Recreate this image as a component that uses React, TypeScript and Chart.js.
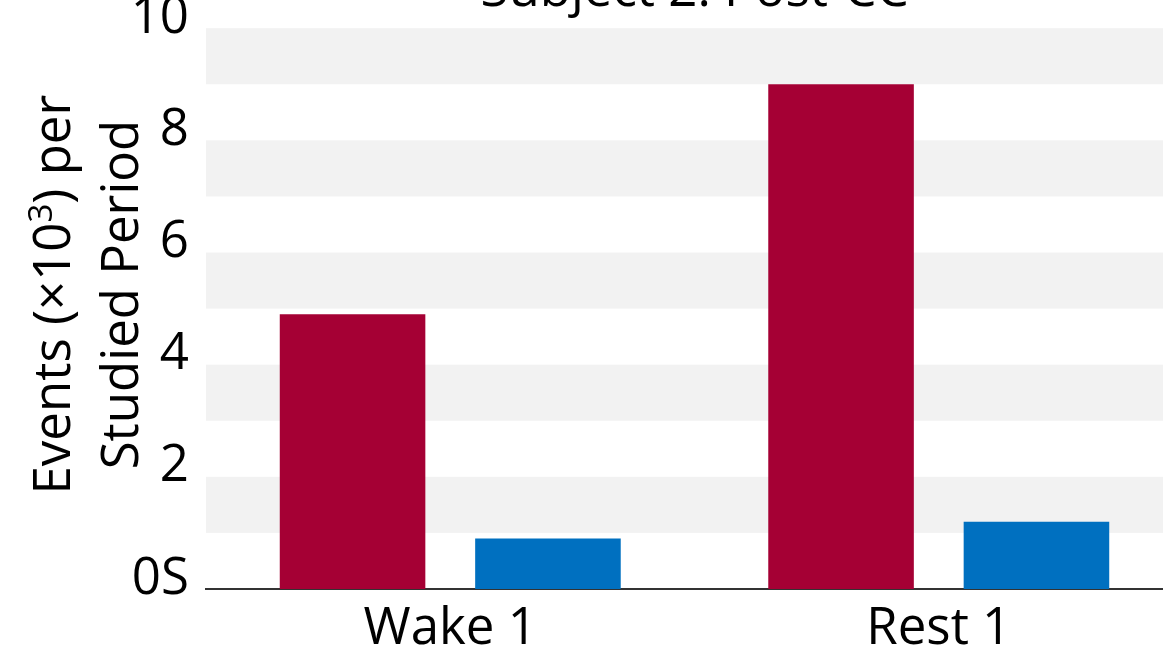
import React, { useEffect, useRef } from "react";
import { Chart, registerables } from "chart.js";

Chart.register(...registerables);

const categories = ["Wake 1", "Rest 1"];
const seriesRed = [4.9, 9.0];
const seriesBlue = [0.9, 1.2];
const yTickLabels = ["0S", "2", "4", "6", "8", "10"];
const titleText = "Subject 2: Post-CC";
const yTitleLine1 = ["Events (×10", "3", ") per"];
const yTitleLine2 = "Studied Period";

const FONT = "'Open Sans'";
const FS = 51;
const T = 42;
const CW = 1183;
const CH = 664 + T;

const bandsPlugin = {
  id: "bands",
  beforeDatasetsDraw(chart: any) {
    const { ctx, chartArea, scales } = chart;
    const y = scales.y;
    ctx.save();
    ctx.fillStyle = "#F2F2F2";
    for (let v = 1; v < 10; v += 2) {
      const top = y.getPixelForValue(v + 1);
      const bot = y.getPixelForValue(v);
      ctx.fillRect(chartArea.left, top, chartArea.right - chartArea.left, bot - top);
    }
    ctx.restore();
  },
};

const yTitlePlugin = {
  id: "yTitle",
  afterDraw(chart: any) {
    const { ctx, chartArea } = chart;
    const cy = (chartArea.top + chartArea.bottom) / 2 - 14;
    const main = `${FS}px ${FONT}`;
    const sup = `${Math.round(FS * 0.64)}px ${FONT}`;
    ctx.save();
    ctx.fillStyle = "#000";
    ctx.textBaseline = "alphabetic";
    ctx.textAlign = "left";
    // line 1
    ctx.save();
    ctx.translate(70, cy);
    ctx.rotate(-Math.PI / 2);
    ctx.font = main;
    const w1 = ctx.measureText(yTitleLine1[0]).width;
    const w3 = ctx.measureText(yTitleLine1[2]).width;
    ctx.font = sup;
    const w2 = ctx.measureText(yTitleLine1[1]).width;
    let x = -(w1 + w2 + w3) / 2;
    ctx.font = main;
    ctx.fillText(yTitleLine1[0], x, 0);
    x += w1;
    ctx.font = sup;
    ctx.fillText(yTitleLine1[1], x, -FS * 0.36);
    x += w2;
    ctx.font = main;
    ctx.fillText(yTitleLine1[2], x, 0);
    ctx.restore();
    // line 2
    ctx.save();
    ctx.translate(138, cy);
    ctx.rotate(-Math.PI / 2);
    ctx.font = main;
    ctx.textAlign = "center";
    ctx.fillText(yTitleLine2, 0, 0);
    ctx.restore();
    ctx.restore();
  },
};

export default function App() {
  const ref = useRef<HTMLCanvasElement | null>(null);
  useEffect(() => {
    if (!ref.current) return;
    const chart = new Chart(ref.current, {
      type: "bar",
      data: {
        labels: categories,
        datasets: [
          { label: "Series 1", data: seriesRed, backgroundColor: "#A50034" },
          { label: "Series 2", data: seriesBlue, backgroundColor: "#0070C0" },
        ],
      },
      options: {
        responsive: false,
        animation: false,
        layout: { padding: 0 },
        datasets: { bar: { categoryPercentage: 0.8, barPercentage: 0.745 } },
        plugins: {
          legend: { display: false },
          tooltip: { enabled: false },
          title: {
            display: true,
            text: titleText,
            fullSize: false,
            color: "#000",
            font: { family: FONT, size: FS, weight: "normal", lineHeight: 1.2 },
            padding: { top: 3, bottom: 6 },
          },
        },
        scales: {
          x: {
            grid: { display: false },
            border: { display: true, color: "#333", width: 2 },
            ticks: { color: "#000", font: { family: FONT, size: FS }, padding: 2 },
            afterFit(scale: any) {
              scale.height = 75;
            },
          },
          y: {
            min: 0,
            max: 10,
            grid: { display: false },
            border: { display: false },
            ticks: {
              stepSize: 2,
              color: "#000",
              font: { family: FONT, size: FS },
              padding: 9,
              labelOffset: -10,
              callback: (v: any) => yTickLabels[Math.round(Number(v) / 2)] ?? "",
            },
            afterFit(scale: any) {
              scale.width = 206;
            },
          },
        },
      },
      plugins: [bandsPlugin, yTitlePlugin],
    } as any);
    return () => chart.destroy();
  }, []);
  return (
    <div style={{ position: "fixed", left: 0, top: 0, width: 1163, height: 664, overflow: "hidden", background: "#fff" }}>
      <canvas
        ref={ref}
        width={CW}
        height={CH}
        style={{ position: "absolute", left: 0, top: -T, width: CW, height: CH }}
      />
    </div>
  );
}
